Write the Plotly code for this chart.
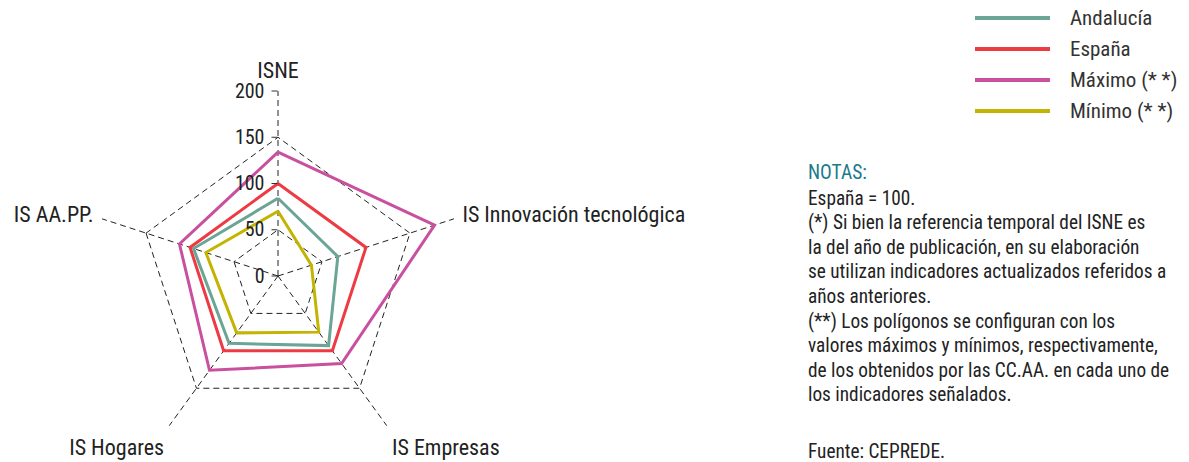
"""
Radar ISNE: Andalucía frente a España, máximo y mínimo de las CC.AA.
"""
import plotly.graph_objects as go

categorias = ["ISNE", "IS Innovación tecnológica", "IS Empresas", "IS Hogares", "IS AA.PP."]
andalucia = [84, 68, 93, 90, 96]
espana = [100, 100, 100, 100, 100]
maximo = [134, 178, 117, 126, 112]
minimo = [70, 38, 75, 76, 82]

series = ["Andalucía", "España", "Máximo (* *)", "Mínimo (* *)"]
valores = [andalucia, espana, maximo, minimo]
colores = ["#6aa596", "#ee3a43", "#c9509f", "#c2b400"]

ticks_radial = [0, 50, 100, 150, 200]

notas = [
    "España = 100.",
    "(*) Si bien la referencia temporal del ISNE es",
    "la del año de publicación, en su elaboración",
    "se utilizan indicadores actualizados referidos a",
    "años anteriores.",
    "(**) Los polígonos se configuran con los",
    "valores máximos y mínimos, respectivamente,",
    "de los obtenidos por las CC.AA. en cada uno de",
    "los indicadores señalados.",
]

FUENTE = "Liberation Sans Narrow, Arial Narrow, Roboto Condensed, Roboto, sans-serif"
W, H = 1189, 462


def px_x(x):
    return x / W


def px_y(y):
    return 1 - y / H


fig = go.Figure()

for nombre, vals, color in zip(series, valores, colores):
    fig.add_trace(go.Scatterpolar(
        r=vals + vals[:1],
        theta=categorias + categorias[:1],
        mode="lines",
        name=nombre,
        line=dict(color=color, width=3),
        showlegend=False,
    ))

# leyenda dibujada a mano (líneas largas como en el original)
for i, (nombre, color) in enumerate(zip(series, colores)):
    y = 18 + i * 31
    fig.add_shape(type="line", xref="paper", yref="paper",
                  x0=px_x(975), x1=px_x(1050), y0=px_y(y), y1=px_y(y),
                  line=dict(color=color, width=4))
    fig.add_annotation(x=px_x(1068), y=px_y(y), xref="paper", yref="paper",
                       text=nombre, showarrow=False, xanchor="left", yanchor="middle",
                       font=dict(size=21, color="#333333", family=FUENTE))

# notas
fig.add_annotation(x=px_x(806), y=px_y(172), xref="paper", yref="paper",
                   text="NOTAS:", showarrow=False, xanchor="left", yanchor="middle",
                   font=dict(size=19.5, color="#1b7a8c", family=FUENTE))
for i, linea in enumerate(notas):
    fig.add_annotation(x=px_x(806), y=px_y(198 + i * 24.6), xref="paper", yref="paper",
                       text=linea, showarrow=False, xanchor="left", yanchor="middle",
                       font=dict(size=19.3, color="#222222", family=FUENTE))
fig.add_annotation(x=px_x(806), y=px_y(451), xref="paper", yref="paper",
                   text="Fuente: CEPREDE.", showarrow=False, xanchor="left", yanchor="middle",
                   font=dict(size=19.3, color="#222222", family=FUENTE))

fig.update_layout(
    width=W, height=H,
    margin=dict(l=0, r=0, t=0, b=0),
    paper_bgcolor="white",
    plot_bgcolor="white",
    showlegend=False,
    font=dict(family=FUENTE, color="#222222"),
    polar=dict(
        domain=dict(x=[px_x(93), px_x(463)], y=[px_y(461), px_y(91)]),
        bgcolor="white",
        gridshape="linear",
        radialaxis=dict(
            range=[0, 200],
            tickvals=ticks_radial,
            angle=90,
            side="counterclockwise",
            tickangle=90,
            showline=False,
            ticks="outside",
            ticklen=6,
            tickcolor="#333333",
            gridcolor="#222222",
            griddash="6px,4px",
            gridwidth=1,
            tickfont=dict(size=20, color="#222222"),
        ),
        angularaxis=dict(
            direction="clockwise",
            rotation=90,
            showline=False,
            ticks="outside",
            ticklen=4,
            tickcolor="rgba(0,0,0,0)",
            gridcolor="#222222",
            griddash="6px,4px",
            gridwidth=1,
            tickfont=dict(size=22, color="#222222"),
        ),
    ),
)

# sin margen en el body para que la figura ocupe la ventana exacta
fig.write_html("out.html", config={"displayModeBar": False},
               post_script="document.body.style.margin='0';")
